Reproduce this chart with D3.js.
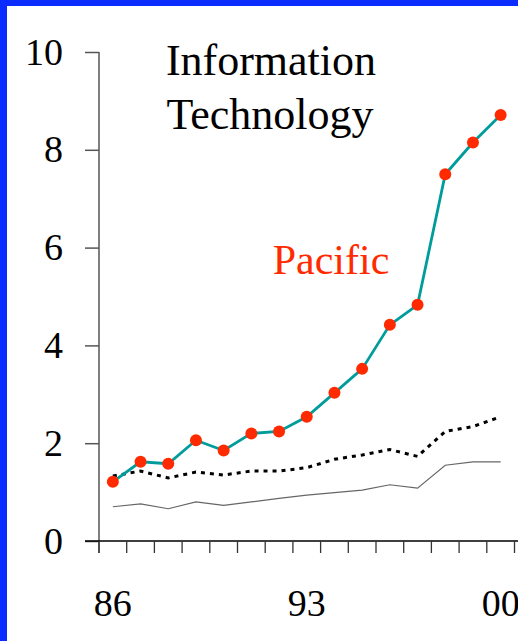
<!DOCTYPE html>
<html>
<head>
<meta charset="utf-8">
<script src="https://cdn.jsdelivr.net/npm/d3@7"></script>
<style>
  body { margin: 0; background: #0a2cff; }
  svg { display: block; }
</style>
</head>
<body>
<div id="chart"></div>
<script>
/* Information Technology - Pacific vs others */

const years = ["86","87","88","89","90","91","92","93","94","95","96","97","98","99","00"];
const shownYears = ["86", "93", "00"];
const pacific = [1.21, 1.62, 1.58, 2.06, 1.85, 2.20, 2.24, 2.54, 3.03, 3.52, 4.42, 4.83, 7.50, 8.15, 8.71];
const dotted  = [1.33, 1.43, 1.29, 1.41, 1.35, 1.43, 1.43, 1.50, 1.67, 1.76, 1.87, 1.73, 2.24, 2.34, 2.54];
const thin    = [0.70, 0.76, 0.66, 0.80, 0.73, 0.80, 0.87, 0.94, 0.99, 1.04, 1.15, 1.08, 1.55, 1.62, 1.62];
const yTicks = [0, 2, 4, 6, 8, 10];

const width = 518,
      height = 641,
      margin = ({ top: 52, right: 3.5, bottom: 100, left: 99 });

let svg = d3.select("#chart")
    .append("svg")
    .attr("width", width)
    .attr("height", height);

// white panel inside blue frame
svg.append("rect")
    .attr("x", 7).attr("y", 6)
    .attr("width", width - 7).attr("height", height - 6)
    .attr("fill", "white");

const x = d3.scaleBand()
    .domain(years)
    .range([margin.left, width - margin.right])
    .padding(0);

const y = d3.scaleLinear()
    .domain([0, 10])
    .range([height - margin.bottom, margin.top]);

const font = "'Liberation Serif', 'Times New Roman', serif";

// y axis
const yAxis = g => g
    .attr("transform", `translate(${margin.left}, 0)`)
    .call(d3.axisLeft(y).tickValues(yTicks).tickSize(14).tickPadding(22))
    .call(g => g.select(".domain").remove())
    .call(g => g.selectAll("line").attr("stroke", "#555").attr("stroke-width", 1.5))
    .call(g => g.selectAll("text")
        .attr("font-family", font).attr("font-size", 38).attr("fill", "black"));

svg.append("g").call(yAxis);

svg.append("line")
    .attr("x1", margin.left).attr("x2", margin.left)
    .attr("y1", y(10)).attr("y2", y(0) + 12)
    .attr("stroke", "#555").attr("stroke-width", 1.5);

// x axis line
svg.append("line")
    .attr("x1", margin.left - 14).attr("x2", width)
    .attr("y1", y(0)).attr("y2", y(0))
    .attr("stroke", "black").attr("stroke-width", 1.5);

// ticks at band boundaries
const bounds = years.map(d => x(d)).concat([x.range()[1]]);
svg.append("g")
    .selectAll("line")
    .data(bounds)
    .join("line")
    .attr("x1", d => d).attr("x2", d => d)
    .attr("y1", y(0)).attr("y2", y(0) + 12)
    .attr("stroke", "#333").attr("stroke-width", 1.3);

// x labels
svg.append("g")
    .selectAll("text")
    .data(shownYears)
    .join("text")
    .attr("x", d => x(d) + x.bandwidth() / 2)
    .attr("y", 616)
    .attr("text-anchor", "middle")
    .attr("font-family", font)
    .attr("font-size", 38)
    .text(d => d);

const line = d3.line()
    .x((d, i) => x(years[i]) + x.bandwidth() / 2)
    .y(d => y(d));

svg.append("path")
    .attr("d", line(thin))
    .attr("fill", "none")
    .attr("stroke", "#666")
    .attr("stroke-width", 1.2);

svg.append("path")
    .attr("d", line(dotted))
    .attr("fill", "none")
    .attr("stroke", "black")
    .attr("stroke-width", 3)
    .attr("stroke-dasharray", "4,5");

svg.append("path")
    .attr("d", line(pacific))
    .attr("fill", "none")
    .attr("stroke", "#009c9c")
    .attr("stroke-width", 2.8);

svg.append("g")
    .selectAll("circle")
    .data(pacific)
    .join("circle")
    .attr("cx", (d, i) => x(years[i]) + x.bandwidth() / 2)
    .attr("cy", d => y(d))
    .attr("r", 6)
    .attr("fill", "#ff2a00");

// titles
svg.append("text")
    .attr("x", 271).attr("y", 75)
    .attr("text-anchor", "middle")
    .attr("font-family", font).attr("font-size", 44)
    .text("Information");

svg.append("text")
    .attr("x", 270).attr("y", 129)
    .attr("text-anchor", "middle")
    .attr("font-family", font).attr("font-size", 44)
    .text("Technology");

svg.append("text")
    .attr("x", 331).attr("y", 274)
    .attr("text-anchor", "middle")
    .attr("font-family", font).attr("font-size", 42)
    .attr("fill", "#ff2a00")
    .text("Pacific");
</script>
</body>
</html>
